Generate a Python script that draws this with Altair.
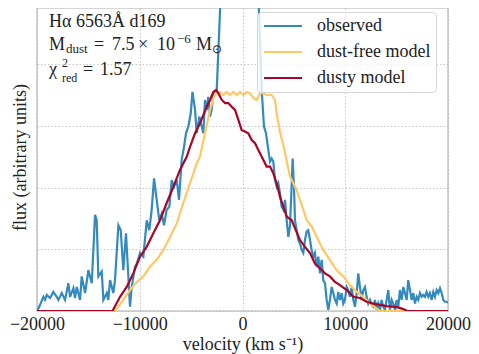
import altair as alt
import pandas as pd

FONT = "Liberation Serif"

series_names = ["observed", "dust-free model", "dusty model"]
series_colors = ["#348ABD", "#FFC862", "#A60628"]

x_ticks = [-20000, -10000, 0, 10000, 20000]
y_grid = [0, 1, 2, 3, 4]

obs_v = [-20000, -19870, -19700, -19380, -19220, -19050, -18730, -18410, -18080, -17920,
         -17590, -17270, -16950, -16780, -16460, -16300, -16130, -15810, -15650, -15320,
         -15000, -14670, -14350, -14190, -14030, -13700, -13540, -13210, -13060, -12890,
         -12570, -12410, -12080, -11850, -11600, -11340, -11110, -10950, -10780, -10460,
         -10290, -9970, -9650, -9320, -9070, -8840, -8610, -8350, -8100, -7860,
         -7640, -7380, -7120, -6890, -6670, -6400, -6180, -5920, -5690, -5500,
         -5270, -5040, -4870, -4620, -4460, -4200, -3970, -3810, -3650, -3480,
         -3330, -3160, -3000, -2840, -2510, -1950, -1000, 0, 800, 1300,
         1870, 2090, 2290, 2510, 2680, 2840, 3000, 3160, 3330, 3480,
         3650, 3810, 3970, 4140, 4300, 4460, 4620, 4790, 4880, 5010,
         5110, 5270, 5430, 5590, 5760, 5920, 6080, 6250, 6400, 6570,
         6730, 6890, 7050, 7220, 7380, 7540, 7710, 7860, 8030, 8190,
         8350, 8510, 8680, 8840, 9000, 9170, 9320, 9490, 9650, 9810,
         9970, 10140, 10290, 10460, 10630, 10780, 10950, 11110, 11270, 11430,
         11600, 11750, 11920, 12080, 12240, 12410, 12570, 12730, 12890, 13060,
         13210, 13380, 13540, 13700, 13860, 14030, 14190, 14350, 14520, 14670,
         14840, 15000, 15160, 15320, 15490, 15650, 15810, 15980, 16130, 16300,
         16460, 16620, 16780, 16950, 17110, 17270, 17440, 17590, 17760, 17920,
         18080, 18240, 18410, 18570, 18730, 18900, 19060, 19220, 19380, 19540,
         19700, 19870, 20000]
obs_f = [0.00, 0.04, 0.10, 0.23, 0.18, 0.26, 0.21, 0.31, 0.23, 0.18,
         0.29, 0.18, 0.45, 0.23, 0.37, 0.21, 0.39, 0.18, 0.56, 0.29,
         0.66, 0.45, 1.56, 1.47, 0.56, 0.64, 0.18, 0.29, 0.18, 0.50,
         0.29, 0.50, 1.39, 1.31, 0.66, 1.26, 0.56, 0.07, 0.39, 0.72,
         0.77, 0.94, 0.88, 1.47, 1.31, 1.64, 2.15, 1.80, 1.47, 1.58,
         1.39, 1.64, 1.69, 2.12, 2.01, 2.12, 1.80, 2.45, 2.66, 2.88,
         2.99, 3.20, 3.55, 3.26, 2.88, 3.15, 2.99, 2.88, 3.42, 3.26,
         3.47, 3.15, 3.26, 3.53, 3.58, 5.80, 9.00, 10.00, 8.50, 6.30,
         3.58, 2.99, 2.88, 2.61, 2.42, 2.47, 2.42, 2.12, 2.01, 2.07,
         1.91, 1.69, 1.64, 1.80, 1.47, 1.20, 1.37, 2.07, 2.47, 2.01,
         1.47, 1.31, 1.15, 1.10, 0.99, 0.94, 1.15, 1.29, 1.31, 1.15,
         0.99, 0.88, 0.94, 0.72, 0.88, 0.61, 0.83, 0.50, 0.45, 0.18,
         0.02, 0.18, 0.39, 0.29, 0.18, 0.12, 0.31, 0.18, 0.29, 0.12,
         0.18, 0.39, 0.34, 0.23, 0.39, 0.18, 0.07, 0.29, 0.61, 0.39,
         0.18, 0.34, 0.39, 0.23, 0.12, 0.18, 0.10, 0.07, 0.18, 0.02,
         0.12, 0.02, 0.18, 0.07, 0.02, 0.18, 0.34, 0.02, 0.18, 0.12,
         0.02, 0.18, 0.07, 0.34, 0.18, 0.39, 0.29, 0.18, 0.50, 0.34,
         0.18, 0.29, 0.12, 0.23, 0.18, 0.29, 0.23, 0.26, 0.23, 0.31,
         0.23, 0.29, 0.18, 0.31, 0.23, 0.34, 0.29, 0.37, 0.29, 0.18,
         0.15, 0.15, 0.13]

free_v = [-20000, -12410, -12240, -11600, -10950, -10290, -9650, -9000, -8350, -7710,
          -7050, -6400, -5760, -5110, -4460, -4140, -3650, -3160, -2770, -2510,
          -2190, -1870, -1540, -1220, -900, -560, -240, 80, 410, 730,
          1050, 1380, 1700, 2020, 2350, 2840, 3160, 3330, 3650, 3970,
          4300, 4620, 4940, 5270, 5590, 5920, 6250, 6730, 7220, 7860,
          8510, 9170, 9810, 10460, 11110, 11750, 12410, 13060, 13380, 20000]
free_f = [0.00, 0.00, 0.04, 0.18, 0.34, 0.47, 0.56, 0.72, 0.83, 0.99,
          1.20, 1.42, 1.75, 2.07, 2.39, 2.50, 2.88, 3.26, 3.47, 3.53,
          3.55, 3.50, 3.55, 3.50, 3.55, 3.50, 3.55, 3.50, 3.55, 3.53,
          3.45, 3.42, 3.53, 3.53, 3.50, 3.50, 3.42, 3.20, 2.90, 2.69,
          2.43, 2.18, 2.07, 1.96, 1.80, 1.64, 1.47, 1.37, 1.20, 0.99,
          0.83, 0.66, 0.56, 0.42, 0.31, 0.23, 0.12, 0.04, 0.00, 0.00]

dusty_v = [-20000, -12650, -11920, -11270, -10630, -9970, -9320, -8680, -8030, -7380,
           -6730, -6080, -5430, -5110, -4620, -4140, -3480, -3160, -2840, -2580,
           -2350, -2020, -1700, -1380, -1050, -730, -410, -80, 240, 560,
           900, 1220, 1540, 1870, 2020, 2350, 2680, 3000, 3330, 3650,
           3970, 4300, 4790, 5110, 5590, 6080, 6570, 7050, 7540, 8030,
           8510, 9000, 9490, 10140, 10780, 11430, 12080, 12730, 13380, 14030,
           14670, 15320, 15810, 16000, 20000]
dusty_f = [0.00, 0.00, 0.23, 0.39, 0.61, 0.88, 1.04, 1.26, 1.47, 1.75,
           2.01, 2.29, 2.50, 2.66, 2.88, 3.04, 3.31, 3.42, 3.55, 3.58,
           3.53, 3.42, 3.37, 3.37, 3.31, 3.26, 3.10, 2.93, 2.91, 2.88,
           2.77, 2.72, 2.61, 2.50, 2.45, 2.34, 2.34, 2.23, 2.07, 1.85,
           1.69, 1.53, 1.47, 1.34, 1.15, 1.04, 0.94, 0.77, 0.69, 0.61,
           0.56, 0.47, 0.42, 0.34, 0.23, 0.21, 0.15, 0.12, 0.10, 0.08,
           0.07, 0.05, 0.02, 0.00, 0.00]

assert len(obs_v) == len(obs_f)
assert len(free_v) == len(free_f)
assert len(dusty_v) == len(dusty_f)


def frame(v, f, name):
    return pd.DataFrame({"v": v, "f": f, "series": name})


x_enc = alt.X(
    "v:Q",
    scale=alt.Scale(domain=[-20000, 20000], nice=False, zero=False),
    axis=alt.Axis(
        values=x_ticks, format="d", title="velocity (km s⁻¹)",
        grid=True, ticks=False, domain=False, labelPadding=4, labelFlush=False,
        titleY=38, titleBaseline="alphabetic",
    ),
)
y_enc = alt.Y(
    "f:Q",
    scale=alt.Scale(domain=[0, 4.91], nice=False, zero=False),
    axis=alt.Axis(
        values=y_grid, labels=False, ticks=False, domain=False, grid=True,
        title="flux (arbitrary units)", titleAngle=-90, titleX=-12, titleY=149,
        titleAlign="center", titleBaseline="alphabetic",
    ),
)
color_enc = alt.Color(
    "series:N",
    scale=alt.Scale(domain=series_names, range=series_colors),
    legend=alt.Legend(
        title=None, orient="none", legendX=220, legendY=4,
        symbolType="M-3.8,0H3.8", symbolSize=100, symbolStrokeWidth=2,
        symbolOffset=12, labelOffset=25,
        labelFont=FONT, labelFontSize=18, labelColor="#222222",
        padding=5, rowPadding=8,
        fillColor="rgba(255,255,255,0.8)", strokeColor="#d6d6d6", cornerRadius=4,
    ),
)


def line(df):
    return alt.Chart(df).mark_line(strokeWidth=2.2, clip=True).encode(
        x=x_enc, y=y_enc, color=color_enc
    )


def label(txt, px, py, size=18):
    return alt.Chart(pd.DataFrame({"t": [txt]})).mark_text(
        align="left", baseline="alphabetic", font=FONT, fontSize=size, color="#222222"
    ).encode(text="t:N", x=alt.value(px), y=alt.value(py))


texts = [
    label("Hα 6563Å d169", 12, 19),
    label("M", 12, 42),
    label("dust", 29, 45, 13),
    label("=", 57, 42),
    label("7.5", 75, 42),
    label("×", 101, 42),
    label("10", 120, 42),
    label("−6", 140, 35, 13),
    label("M", 159, 42),
    label("⊙", 175, 45, 12),
    label("χ", 12, 67),
    label("2", 25, 59, 12),
    label("red", 25, 74, 12),
    label("=", 46, 67),
    label("1.57", 63, 67),
]

chart = alt.layer(
    line(frame(obs_v, obs_f, "observed")),
    line(frame(free_v, free_f, "dust-free model")),
    line(frame(dusty_v, dusty_f, "dusty model")),
    *texts,
).properties(
    width=411, height=303,
    autosize=alt.AutoSizeParams(type="none"),
    padding={"left": 29, "top": 0, "right": 23, "bottom": 43},
    background="white",
).configure_view(
    stroke="#c8c8c8", strokeWidth=1.6
).configure_axis(
    labelFont=FONT, labelFontSize=18, labelColor="#222222",
    titleFont=FONT, titleFontSize=18, titleFontWeight="normal", titleColor="#222222",
    gridColor="#b8b8b8", gridDash=[1.5, 2], gridWidth=0.8,
)

chart.save("out.html", embed_options={"renderer": "svg", "actions": False})
